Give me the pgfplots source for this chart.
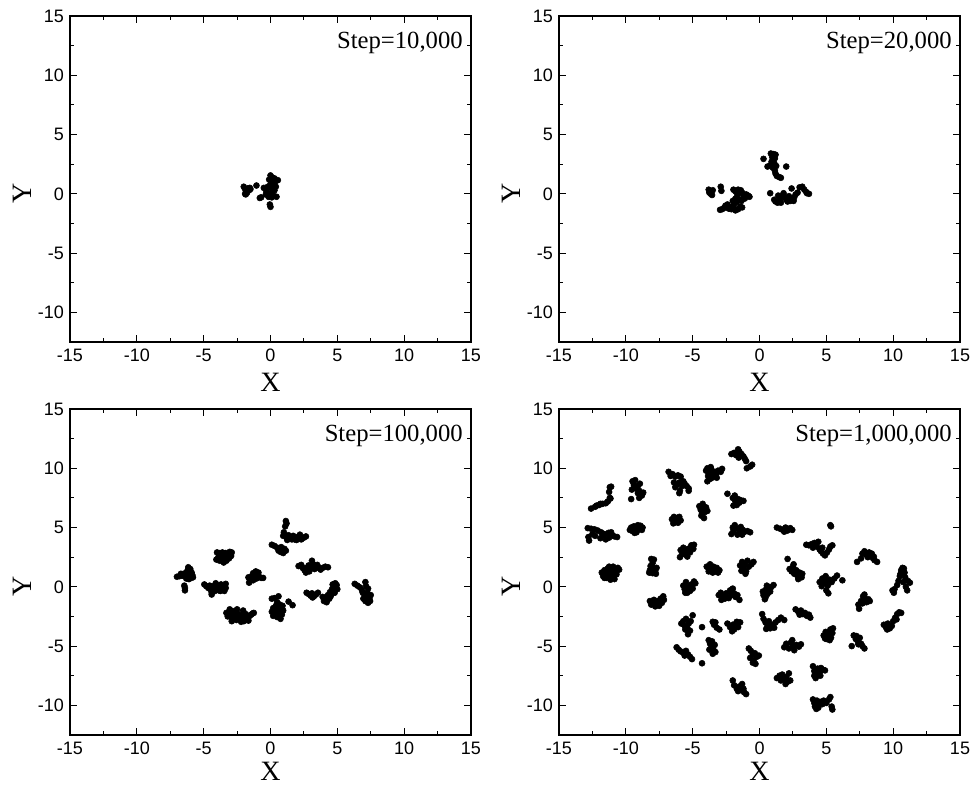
\documentclass[border=0pt]{standalone}
\usepackage{fontspec}
\setmainfont{Liberation Serif}
\newfontfamily\arial{Liberation Sans}
\usepackage{pgfplots}
\pgfplotsset{compat=1.18}
\pgfplotsset{panel/.style={
  scale only axis, width=300.75pt, height=244.5pt,
  xmin=-15,xmax=15,ymin=-12.5,ymax=15,
  xtick={-15,-10,...,15}, ytick={-10,-5,...,15},
  minor x tick num=1, minor y tick num=1,
  tick align=inside, major tick length=5pt, minor tick length=3pt,
  tick style={black, line width=0.7pt},
  axis line style={line width=0.9pt},
  /pgf/number format/assume math mode=true,
  ticklabel style={font=\arial\fontsize{13.5}{14}\selectfont},
  xticklabel style={yshift=-2pt},
  yticklabel style={xshift=-1pt},
  xlabel={X}, ylabel={Y},
  label style={font=\fontsize{21}{22}\selectfont, inner sep=0pt},
  xlabel style={at={(axis description cs:0.5,-0.1227)}, anchor=center},
  ylabel style={at={(axis description cs:-0.1197,0.4545)}, anchor=center},
},
lowpanel/.style={panel, xlabel style={at={(axis description cs:0.5,-0.111)}, anchor=center}},
pts/.style={only marks, mark=*, mark size=2.25pt, draw=black, fill=black, mark options={draw=black, fill=black}}}
\newcommand{\steplabel}[1]{\node[anchor=mid east, inner sep=0pt, font=\fontsize{18.5}{19}\selectfont] at (axis cs:14.4,12.5) {#1};}
\begin{document}
\begin{tikzpicture}
\useasboundingbox (0,0) rectangle (728.25pt,-590.25pt);
% Panel 1
\begin{axis}[panel, at={(52.5pt,-256.5pt)}, anchor=south west]
\addplot[pts] table {
-2.0 0.6
-1.9 0.4
-1.8 0.2
-1.9 0.0
-1.7 0.45
-1.6 0.3
-1.5 0.4
-1.75 0.1
-1.85 -0.05
-1.55 0.5
-1.05 0.7
-0.8 -0.35
-0.7 -0.3
0.0 1.55
0.1 1.4
0.3 1.3
0.55 1.15
-0.1 1.2
0.2 1.0
0.0 0.8
0.25 0.7
-0.2 0.6
0.4 0.6
-0.5 0.5
0.1 0.4
0.3 0.3
-0.3 0.2
0.0 0.0
-0.35 -0.05
0.2 -0.1
-0.15 -0.25
0.1 -0.3
0.45 -0.25
0.3 0.9
-0.05 -0.9
0.0 -1.1
};
\steplabel{Step=10,000}
\end{axis}
% Panel 2
\begin{axis}[panel, at={(419.25pt,-256.5pt)}, anchor=south west]
\addplot[pts] table {
-3.8 0.35
-3.7 0.2
-3.65 0.0
-3.55 -0.1
-3.75 0.1
-3.5 0.3
-2.9 0.6
-2.85 0.25
-2.95 -1.35
-2.8 -1.3
-2.65 -1.2
-2.55 -1.0
-2.4 -0.9
-2.3 -1.25
-2.2 -1.1
-2.1 -1.3
-1.95 -1.2
-1.8 -1.4
-1.6 -1.3
-1.45 -1.1
-1.3 -1.15
-1.9 -0.9
-1.7 -0.7
-1.8 -0.4
-1.95 0.35
-1.8 0.2
-1.6 0.35
-1.4 0.3
-1.3 0.1
-1.2 -0.1
-1.0 -0.05
-0.85 -0.15
-0.75 -0.25
-1.1 -0.4
-1.5 -0.5
-1.65 -0.1
-1.55 0.1
-2.0 -0.6
-1.35 -0.6
-1.2 -0.3
0.3 2.95
0.85 3.4
1.05 3.35
1.2 3.3
0.95 3.1
1.15 3.0
0.9 2.7
1.1 2.6
0.8 2.4
0.6 2.3
1.0 2.2
1.15 1.95
1.2 1.7
1.3 1.5
1.5 1.4
1.6 1.35
2.0 2.3
1.25 2.35
0.8 0.05
1.1 -0.5
1.2 -0.65
1.35 -0.75
1.5 -0.6
1.55 -0.4
1.7 -0.2
1.8 0.05
1.9 -0.3
2.0 -0.5
2.1 -0.65
2.3 -0.6
2.45 -0.4
2.6 -0.3
2.7 -0.05
2.4 0.45
2.2 -0.2
1.6 -0.75
2.55 -0.6
3.0 0.55
3.2 0.6
3.35 0.35
3.5 0.15
3.7 0.0
3.55 0.05
2.85 0.1
1.4 -0.15
};
\steplabel{Step=20,000}
\end{axis}
% Panel 3
\begin{axis}[lowpanel, at={(52.5pt,-551.25pt)}, anchor=south west]
\addplot[pts] table {
-7.0 0.85
-6.8 0.9
-6.6 0.95
-6.7 1.1
-6.5 1.1
-6.4 0.9
-6.3 1.2
-6.2 1.4
-6.15 1.65
-6.0 1.5
-5.9 1.2
-5.85 1.0
-5.95 0.75
-6.1 0.65
-6.25 0.9
-6.05 1.0
-6.3 0.7
-5.8 0.8
-6.4 -0.1
-6.4 -0.3
-6.45 0.1
-4.95 0.2
-4.8 0.05
-4.65 -0.1
-4.5 -0.2
-4.4 -0.5
-4.4 -0.65
-4.3 0.05
-4.2 -0.2
-4.1 0.3
-4.0 0.1
-3.9 -0.15
-3.85 -0.3
-3.7 0.2
-3.6 0.0
-3.55 -0.25
-3.45 -0.35
-3.35 0.25
-3.35 -0.1
-4.55 0.1
-3.75 -0.35
-4.15 -0.35
-4.0 2.9
-3.85 2.85
-3.6 2.65
-3.9 2.5
-3.7 2.4
-3.5 2.3
-3.3 2.55
-3.2 2.8
-3.05 2.95
-2.9 2.9
-2.95 2.6
-3.1 2.4
-3.3 2.2
-3.5 2.05
-3.8 2.2
-4.05 2.3
-3.6 2.9
-3.35 2.85
-3.3 -2.2
-3.2 -2.5
-3.05 -1.9
-2.95 -2.35
-2.85 -2.7
-2.8 -2.05
-2.65 -2.45
-2.55 -2.8
-2.5 -1.9
-2.4 -2.3
-2.3 -2.65
-2.2 -2.95
-2.1 -2.4
-2.05 -2.0
-1.95 -2.7
-1.85 -2.3
-1.75 -2.6
-1.65 -2.85
-1.55 -2.45
-1.45 -2.35
-1.35 -2.25
-1.25 -2.2
-2.9 -2.9
-2.6 -2.1
-2.0 -2.9
-1.65 0.8
-1.55 0.6
-1.6 0.35
-1.4 0.9
-1.3 1.15
-1.2 0.8
-1.1 1.3
-1.0 1.0
-1.05 0.7
-0.9 1.2
-0.85 0.85
-0.7 0.75
-0.55 0.75
-1.3 0.55
0.1 -1.0
0.3 -0.95
0.6 -0.8
0.5 -1.3
0.4 -1.6
0.7 -1.5
0.9 -1.6
0.2 -1.8
0.5 -1.9
0.75 -2.0
0.95 -2.0
0.1 -2.1
0.35 -2.25
0.6 -2.3
0.85 -2.35
0.2 -2.45
0.5 -2.55
0.75 -2.7
0.4 -2.0
1.35 -1.25
1.65 -1.55
0.1 3.55
0.3 3.45
0.5 3.3
0.7 3.2
0.9 3.1
0.8 3.35
1.05 3.2
0.75 2.95
0.95 2.85
0.6 3.05
1.15 3.05
1.15 5.55
1.2 5.35
1.1 5.1
1.0 4.6
0.95 4.3
1.2 4.15
1.35 4.35
1.5 4.1
1.7 4.3
1.8 4.0
2.0 4.2
2.2 4.4
2.3 4.0
2.5 4.15
2.65 4.25
1.6 4.0
1.25 3.95
1.95 3.95
2.1 1.75
2.3 1.85
2.4 1.6
2.55 1.4
2.65 1.2
2.7 1.6
2.85 1.8
3.0 1.6
3.1 2.2
3.2 1.9
3.35 1.7
3.5 1.85
3.6 1.6
3.75 1.45
3.9 1.6
4.1 1.7
4.3 1.65
2.9 1.3
3.3 1.5
2.7 -0.5
2.85 -0.6
3.0 -0.75
3.15 -0.9
3.25 -0.8
3.4 -0.65
3.55 -0.5
3.1 -0.55
4.0 -1.2
4.2 -1.3
4.1 -0.9
4.3 -0.7
4.4 -1.0
4.45 -0.45
4.6 -0.55
4.6 -0.2
4.75 0.0
4.85 0.3
4.95 0.15
5.0 -0.2
4.8 -0.5
4.5 -0.8
4.25 -1.1
3.9 -0.85
4.65 0.2
6.3 0.25
6.5 0.1
6.7 -0.05
6.85 -0.3
7.1 0.4
7.15 0.05
7.3 -0.15
6.9 -0.5
7.05 -0.7
7.2 -0.9
7.4 -1.0
6.95 -1.0
7.1 -1.2
7.3 -1.35
7.45 -1.2
7.5 -0.7
7.25 -0.5
};
\steplabel{Step=100,000}
\end{axis}
% Panel 4
\begin{axis}[lowpanel, at={(419.25pt,-551.25pt)}, anchor=south west]
\addplot[pts] table {
-12.6 6.6
-12.3 6.75
-12.0 6.9
-11.75 7.0
-11.5 7.05
-11.35 7.2
-12.2 6.85
-11.9 7.0
-11.2 7.5
-11.25 8.0
-11.2 8.4
-11.1 8.45
-11.15 7.45
-12.85 4.95
-12.6 4.9
-12.35 4.85
-12.1 4.75
-11.85 4.6
-11.6 4.45
-11.3 4.55
-11.05 4.4
-10.85 4.25
-10.65 4.2
-12.8 4.2
-12.75 3.9
-12.3 4.3
-11.9 4.1
-11.5 4.0
-11.25 4.15
-11.7 4.35
-12.5 4.45
-11.1 4.6
-11.8 1.2
-11.7 0.9
-11.6 1.4
-11.5 1.1
-11.45 0.75
-11.35 1.55
-11.3 1.25
-11.2 0.9
-11.15 0.6
-11.1 1.45
-11.0 1.15
-10.95 1.7
-10.9 0.85
-10.8 1.35
-10.7 1.05
-10.6 1.6
-10.5 1.45
-11.6 0.75
-11.25 1.7
-10.85 0.65
-11.4 1.0
-9.5 8.9
-9.4 8.6
-9.3 9.0
-9.25 8.3
-9.1 8.5
-9.0 8.1
-8.9 7.9
-8.8 7.7
-9.1 7.9
-8.7 7.95
-9.6 7.4
-9.0 7.5
-9.55 8.2
-8.95 8.7
-9.7 4.8
-9.6 5.0
-9.5 4.7
-9.4 5.1
-9.3 4.9
-9.2 4.6
-9.1 5.2
-9.0 4.9
-8.9 5.15
-8.8 4.8
-9.35 4.55
-8.75 5.0
-8.1 2.35
-7.9 2.3
-8.0 2.0
-8.15 1.75
-7.95 1.6
-8.2 1.4
-7.8 1.35
-8.0 1.15
-7.75 1.1
-8.25 1.2
-7.7 1.6
-8.2 -1.2
-8.0 -1.4
-7.9 -1.1
-7.75 -1.5
-7.6 -1.2
-7.5 -1.6
-7.4 -1.0
-7.3 -1.35
-7.2 -0.8
-7.15 -1.1
-7.8 -1.65
-8.1 -1.5
-6.8 9.7
-6.65 9.35
-6.5 9.5
-6.3 9.3
-6.1 9.4
-5.9 9.3
-6.4 8.8
-6.2 8.6
-6.0 8.8
-5.8 8.5
-5.6 8.7
-5.45 8.5
-5.3 8.3
-6.3 8.4
-5.95 8.1
-6.0 7.9
-5.3 8.1
-5.7 8.9
-6.55 5.7
-6.4 5.9
-6.3 5.5
-6.2 5.8
-6.1 5.4
-6.0 5.9
-5.9 5.6
-6.45 5.35
-5.95 2.5
-5.8 2.75
-5.9 3.1
-5.6 3.0
-5.5 2.7
-5.35 3.2
-5.2 2.9
-5.1 3.5
-4.9 3.55
-4.95 3.2
-5.4 2.55
-5.7 3.3
-5.7 0.1
-5.6 -0.2
-5.5 0.4
-5.4 -0.5
-5.3 0.0
-5.2 -0.35
-5.1 0.2
-4.9 0.45
-4.8 0.3
-5.4 -0.1
-5.55 -0.5
-5.0 -0.15
-5.85 -3.1
-5.7 -2.9
-5.6 -3.3
-5.5 -2.7
-5.4 -3.5
-5.3 -3.1
-5.2 -3.7
-5.35 -4.0
-5.55 -3.6
-5.15 -2.9
-5.0 -2.4
-4.3 -3.4
-6.2 -5.1
-6.05 -5.3
-5.9 -5.45
-5.7 -5.55
-5.5 -5.4
-5.35 -5.7
-5.2 -5.9
-5.05 -6.1
-5.6 -5.8
-4.3 -6.45
-4.5 6.8
-4.4 6.5
-4.25 7.0
-4.2 6.6
-4.1 6.3
-4.0 6.7
-4.3 6.2
-3.9 6.4
-4.15 5.8
-4.35 6.0
-4.0 9.8
-3.9 10.0
-3.75 9.6
-3.6 9.9
-3.5 9.4
-3.4 9.7
-3.25 9.5
-3.1 9.8
-2.9 9.7
-2.8 9.95
-3.7 9.1
-3.9 8.9
-3.55 9.2
-3.2 9.2
-3.85 9.35
-3.65 10.1
-3.95 1.7
-3.8 1.5
-3.7 1.9
-3.6 1.4
-3.45 1.7
-3.3 1.3
-3.2 1.6
-3.1 1.2
-3.0 1.4
-3.8 1.3
-3.5 1.2
-3.8 -4.5
-3.7 -4.8
-3.55 -4.6
-3.6 -5.1
-3.45 -5.3
-3.3 -5.5
-3.5 -5.65
-3.75 -5.3
-3.35 -4.9
-3.5 -2.95
-3.4 -3.2
-3.2 -3.45
-3.0 -3.6
-3.3 -3.0
-3.05 -0.7
-2.9 -0.5
-2.85 -1.1
-2.7 -0.8
-2.5 -0.55
-2.4 -0.9
-2.2 -0.3
-2.1 -0.7
-2.0 -0.15
-1.9 -0.55
-1.8 -0.85
-1.65 -0.7
-1.5 -1.1
-2.6 -1.0
-2.3 -0.95
-2.4 -3.1
-2.2 -3.4
-2.0 -3.2
-1.9 -3.6
-1.75 -3.1
-1.6 -3.4
-1.45 -3.0
-2.05 -3.75
-1.7 -2.95
-2.4 7.85
-2.0 7.5
-1.85 7.7
-1.8 7.2
-1.7 6.9
-1.6 7.4
-1.4 7.3
-1.2 7.25
-1.95 6.85
-1.5 7.1
-2.1 11.2
-1.9 11.3
-1.75 11.1
-1.6 11.6
-1.5 11.4
-1.35 11.2
-1.2 11.0
-1.1 10.8
-1.0 10.6
-1.55 10.9
-0.95 10.0
-0.7 10.15
-0.55 10.3
-2.1 4.45
-1.95 4.7
-2.0 5.0
-1.85 5.2
-1.6 4.9
-1.5 4.6
-1.4 5.05
-1.25 4.8
-1.1 4.65
-0.9 4.7
-0.7 4.6
-1.65 4.4
-1.3 4.4
-1.45 1.8
-1.3 2.1
-1.2 1.6
-1.1 1.9
-1.0 1.3
-0.9 2.2
-0.8 1.7
-0.6 1.9
-0.45 2.1
-1.05 1.1
-1.35 1.35
-2.0 -7.9
-1.9 -8.3
-1.7 -8.6
-1.5 -8.4
-1.3 -8.2
-1.2 -8.6
-1.15 -8.9
-1.0 -9.05
-1.6 -8.8
-1.4 -8.7
-0.8 -5.2
-0.65 -5.4
-0.5 -5.7
-0.7 -6.0
-0.45 -6.2
-0.3 -6.5
-0.5 -6.4
-0.2 -5.9
-0.05 -5.8
-0.35 -5.6
0.25 -0.4
0.3 -0.7
0.45 -0.9
0.5 -0.2
0.6 -0.6
0.55 0.1
0.75 -0.1
0.8 -0.4
0.9 0.0
1.05 0.15
0.4 -1.05
0.2 -2.3
0.3 -2.7
0.45 -3.0
0.6 -3.3
0.8 -3.5
0.7 -2.9
1.0 -3.2
1.2 -3.0
1.4 -2.8
1.6 -2.6
1.85 -2.8
0.5 -3.55
1.1 -3.45
1.3 -7.7
1.5 -7.5
1.7 -7.4
1.8 -7.8
2.0 -7.6
2.1 -8.0
2.3 -7.9
2.2 -7.3
1.95 -8.2
1.6 -7.9
1.3 5.0
1.55 4.9
1.75 4.8
1.95 5.0
2.1 4.75
2.3 4.95
2.45 4.8
1.85 4.65
2.1 2.35
2.25 1.5
2.4 1.3
2.5 1.7
2.6 1.1
2.75 1.4
2.85 0.9
3.0 1.2
3.15 0.8
3.2 1.1
2.55 1.9
2.9 0.65
1.85 -5.1
2.0 -4.8
2.2 -5.2
2.35 -4.7
2.5 -5.0
2.6 -5.35
2.75 -4.9
2.95 -5.05
3.1 -4.85
2.45 -4.5
2.7 -1.9
2.9 -2.1
3.1 -2.0
3.25 -2.3
3.4 -2.2
3.55 -2.45
3.7 -2.35
3.8 -2.6
3.0 -2.35
3.5 3.55
3.7 3.5
3.9 3.6
4.1 3.7
4.3 3.4
4.5 3.15
4.6 3.0
4.75 2.8
4.9 2.65
5.05 2.9
5.2 3.15
5.3 3.4
5.45 3.5
4.0 3.3
4.4 3.8
4.7 3.3
5.3 5.2
5.35 5.1
4.5 0.4
4.7 0.7
4.8 0.3
4.95 0.9
5.0 0.5
5.1 0.1
5.25 0.6
5.4 0.4
5.6 0.7
5.8 0.95
5.0 -0.3
5.15 -0.55
6.2 0.55
4.65 0.05
4.8 -4.1
4.95 -3.8
5.0 -4.4
5.15 -4.0
5.3 -3.6
5.35 -4.3
5.45 -3.9
5.5 -3.5
5.25 -4.5
4.9 -4.35
4.0 -6.7
4.1 -7.1
4.25 -7.4
4.35 -6.9
4.5 -7.2
4.6 -6.85
4.75 -7.0
4.9 -7.05
4.2 -7.7
4.1 -7.5
4.55 -7.5
4.0 -9.5
4.1 -9.8
4.15 -10.1
4.25 -10.3
4.3 -9.6
4.45 -9.9
4.6 -9.7
4.8 -9.6
5.0 -9.8
5.2 -9.5
5.3 -9.3
5.4 -10.1
5.45 -10.35
4.4 -10.2
4.7 -9.9
7.3 2.1
7.6 2.4
7.7 2.8
7.85 3.0
8.0 2.7
8.2 2.9
8.35 2.6
8.5 2.4
8.6 2.25
8.8 2.1
8.1 2.5
8.4 2.8
8.55 2.55
7.4 -1.5
7.45 -1.85
7.6 -1.2
7.75 -0.8
7.9 -1.0
8.0 -1.3
8.15 -1.05
7.85 -0.65
7.7 -1.4
8.25 -1.2
6.9 -5.0
7.05 -4.1
7.2 -4.4
7.35 -4.6
7.5 -4.3
7.6 -4.8
7.7 -5.0
7.85 -5.2
7.4 -4.85
7.25 -4.15
9.95 -0.3
10.05 -0.5
10.1 -0.2
10.3 0.15
10.4 0.5
10.5 0.9
10.6 1.4
10.7 1.6
10.85 1.2
10.9 0.8
10.75 0.4
10.95 0.0
11.05 -0.3
11.1 0.5
11.25 0.35
10.55 1.1
10.8 1.55
9.3 -3.2
9.45 -3.4
9.6 -3.1
9.75 -3.5
9.9 -3.3
10.0 -2.9
10.15 -2.6
10.3 -2.3
10.45 -2.15
10.6 -2.2
9.55 -3.6
10.25 -2.75
};
\steplabel{Step=1,000,000}
\end{axis}
\end{tikzpicture}
\end{document}
